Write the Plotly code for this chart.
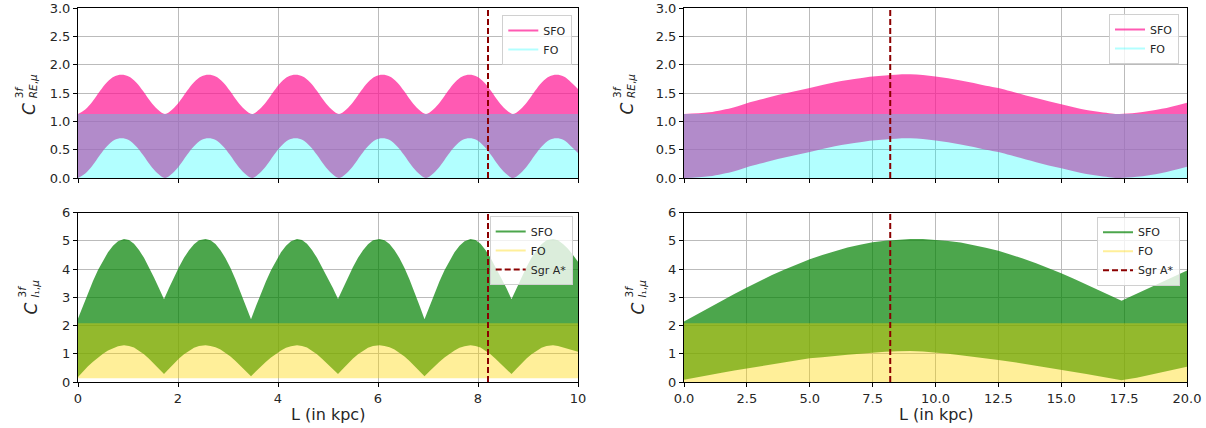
import plotly.graph_objects as go

# ---------------- data ----------------
SGR_A = 8.2

# Top-left panel (C_RE), L in 0..10 kpc
tl_x = [0, 0.145, 0.29, 0.435, 0.58, 0.725, 0.87, 1.015, 1.16, 1.305, 1.45, 1.595,
        1.74, 1.885, 2.03, 2.175, 2.32, 2.465, 2.61, 2.755, 2.9, 3.045, 3.19, 3.335,
        3.48, 3.625, 3.77, 3.915, 4.06, 4.205, 4.35, 4.495, 4.64, 4.785, 4.93, 5.075,
        5.22, 5.365, 5.51, 5.655, 5.8, 5.945, 6.09, 6.235, 6.38, 6.525, 6.67, 6.815,
        6.96, 7.105, 7.25, 7.395, 7.54, 7.685, 7.83, 7.975, 8.12, 8.265, 8.41, 8.555,
        8.7, 8.845, 8.99, 9.135, 9.28, 9.425, 9.57, 9.715, 9.86, 10.0]
tl_sfo_lo = [0, 0.08, 0.22, 0.4, 0.56, 0.67, 0.7, 0.67, 0.56, 0.4, 0.22, 0.08,
             0, 0.08, 0.22, 0.4, 0.56, 0.67, 0.7, 0.67, 0.56, 0.4, 0.22, 0.08,
             0, 0.08, 0.22, 0.4, 0.56, 0.67, 0.7, 0.67, 0.56, 0.4, 0.22, 0.08,
             0, 0.08, 0.22, 0.4, 0.56, 0.67, 0.7, 0.67, 0.56, 0.4, 0.22, 0.08,
             0, 0.08, 0.22, 0.4, 0.56, 0.67, 0.7, 0.67, 0.56, 0.4, 0.22, 0.08,
             0, 0.08, 0.22, 0.4, 0.56, 0.67, 0.7, 0.67, 0.56, 0.44]
tl_sfo_hi = [1.13, 1.21, 1.35, 1.53, 1.69, 1.79, 1.82, 1.79, 1.69, 1.53, 1.35, 1.21,
             1.13, 1.21, 1.35, 1.53, 1.69, 1.79, 1.82, 1.79, 1.69, 1.53, 1.35, 1.21,
             1.13, 1.21, 1.35, 1.53, 1.69, 1.79, 1.82, 1.79, 1.69, 1.53, 1.35, 1.21,
             1.13, 1.21, 1.35, 1.53, 1.69, 1.79, 1.82, 1.79, 1.69, 1.53, 1.35, 1.21,
             1.13, 1.21, 1.35, 1.53, 1.69, 1.79, 1.82, 1.79, 1.69, 1.53, 1.35, 1.21,
             1.13, 1.21, 1.35, 1.53, 1.69, 1.79, 1.82, 1.79, 1.69, 1.57]

# Top-right panel (C_RE), L in 0..20 kpc
tr_x = [0, 1, 2, 2.5, 3, 4, 5, 6, 7, 7.5, 8, 9, 10, 11, 12, 12.5, 13, 14, 15, 16,
        17, 17.3, 18, 19, 20]
tr_sfo_lo = [0.0, 0.03, 0.12, 0.19, 0.25, 0.36, 0.46, 0.56, 0.63, 0.66, 0.68, 0.70,
             0.66, 0.59, 0.50, 0.46, 0.40, 0.28, 0.17, 0.07, 0.01, 0.0, 0.02, 0.09, 0.20]
tr_sfo_hi = [1.13, 1.16, 1.25, 1.32, 1.38, 1.49, 1.59, 1.69, 1.76, 1.79, 1.81, 1.83,
             1.79, 1.72, 1.63, 1.59, 1.53, 1.41, 1.30, 1.20, 1.14, 1.13, 1.15, 1.22, 1.33]

# FO band for C_RE
re_fo_x = [0, 20]
re_fo_lo = [0.0, 0.0]
re_fo_hi = [1.13, 1.13]

# Bottom-left panel (C_I1), L in 0..10 kpc
bl_x = [0, 0.1, 0.2, 0.3, 0.4, 0.5, 0.6, 0.7, 0.8, 0.92, 1.02, 1.12, 1.22, 1.32, 1.42, 1.52, 1.62,
        1.72, 1.82, 1.92, 2.02, 2.12, 2.22, 2.32, 2.42, 2.55, 2.65, 2.75, 2.85, 2.95, 3.05, 3.15, 3.25, 3.36,
        3.46, 3.56, 3.66, 3.76, 3.86, 3.96, 4.06, 4.16, 4.26, 4.38, 4.48, 4.58, 4.68, 4.78, 4.88, 4.98, 5.1,
        5.2, 5.3, 5.4, 5.5, 5.6, 5.7, 5.8, 5.9, 6.03, 6.13, 6.23, 6.33, 6.43, 6.53, 6.63, 6.73, 6.83,
        6.93, 7.03, 7.13, 7.23, 7.33, 7.43, 7.53, 7.63, 7.73, 7.85, 7.95, 8.05, 8.15, 8.25, 8.35, 8.45, 8.57,
        8.67, 8.77, 8.87, 8.97, 9.07, 9.17, 9.27, 9.37, 9.5, 9.6, 9.7, 9.8, 9.9, 10.0]
bl_sfo_hi = [2.25, 2.71, 3.16, 3.58, 3.97, 4.3, 4.6, 4.83, 4.99, 5.07, 5.03, 4.9, 4.68, 4.4, 4.07, 3.7, 3.32,
             2.93, 3.33, 3.72, 4.08, 4.40, 4.67, 4.88, 5.02, 5.07, 5.02, 4.89, 4.67, 4.39, 4.04, 3.63, 3.19, 2.71,
             2.22, 2.69, 3.14, 3.57, 3.96, 4.3, 4.6, 4.83, 4.99, 5.07, 5.03, 4.9, 4.68, 4.4, 4.07, 3.7, 3.32,
             2.94, 3.33, 3.72, 4.08, 4.40, 4.67, 4.88, 5.02, 5.07, 5.02, 4.89, 4.67, 4.39, 4.04, 3.63, 3.19, 2.71,
             2.22, 2.69, 3.14, 3.57, 3.96, 4.3, 4.6, 4.83, 4.99, 5.07, 5.03, 4.9, 4.68, 4.4, 4.07, 3.7, 3.32,
             2.93, 3.33, 3.72, 4.08, 4.40, 4.67, 4.88, 5.02, 5.07, 5.02, 4.89, 4.72, 4.5, 4.26]
bl_sfo_lo = [0.18, 0.38, 0.56, 0.72, 0.87, 1.0, 1.12, 1.21, 1.27, 1.3, 1.28, 1.22, 1.11, 0.98, 0.82, 0.65, 0.47,
             0.28, 0.47, 0.66, 0.83, 0.98, 1.11, 1.21, 1.28, 1.3, 1.28, 1.23, 1.15, 1.04, 0.90, 0.74, 0.57, 0.39,
             0.2, 0.38, 0.56, 0.72, 0.87, 1.0, 1.12, 1.21, 1.27, 1.3, 1.28, 1.22, 1.11, 0.98, 0.82, 0.65, 0.47,
             0.28, 0.47, 0.66, 0.83, 0.98, 1.11, 1.21, 1.28, 1.3, 1.28, 1.23, 1.15, 1.04, 0.90, 0.74, 0.57, 0.39,
             0.2, 0.38, 0.56, 0.72, 0.87, 1.0, 1.12, 1.21, 1.27, 1.3, 1.28, 1.22, 1.11, 0.98, 0.82, 0.65, 0.47,
             0.28, 0.47, 0.66, 0.83, 0.98, 1.11, 1.21, 1.28, 1.3, 1.28, 1.23, 1.17, 1.12, 1.07]
bl_fo_x = [0, 10]
bl_fo_lo = [0.13, 0.13]
bl_fo_hi = [2.08, 2.08]

# Bottom-right panel (C_I1), L in 0..20 kpc
br_x = [0, 0.5, 1, 1.5, 2, 2.5, 3, 3.5, 4, 4.5, 5, 5.5, 6, 6.5, 7, 7.5, 8, 8.5, 9, 9.5,
        10, 10.5, 11, 11.5, 12, 12.5, 13, 13.5, 14, 14.5, 15, 15.5, 16, 16.5, 17, 17.4,
        17.5, 18, 18.5, 19, 19.5, 20]
br_sfo_hi = [2.14, 2.39, 2.64, 2.88, 3.12, 3.35, 3.58, 3.79, 3.99, 4.18, 4.35, 4.50,
             4.64, 4.77, 4.86, 4.95, 5.01, 5.05, 5.07, 5.07, 5.04, 5.00, 4.94, 4.86,
             4.76, 4.65, 4.52, 4.37, 4.21, 4.04, 3.85, 3.66, 3.46, 3.25, 3.05, 2.88,
             2.92, 3.13, 3.34, 3.54, 3.75, 3.95]
br_sfo_lo = [0.08, 0.17, 0.25, 0.33, 0.41, 0.48, 0.56, 0.63, 0.70, 0.77, 0.84, 0.88,
             0.93, 0.97, 1.0, 1.04, 1.07, 1.09, 1.10, 1.08, 1.05, 1.0, 0.95, 0.9,
             0.85, 0.78, 0.72, 0.65, 0.58, 0.5, 0.43, 0.35, 0.28, 0.2, 0.12, 0.06,
             0.08, 0.15, 0.25, 0.35, 0.45, 0.54]
br_fo_x = [0, 20]
br_fo_lo = [0.0, 0.0]
br_fo_hi = [2.08, 2.08]

x_ticks_left = [0, 2, 4, 6, 8, 10]
x_ticks_right = [0, 2.5, 5, 7.5, 10, 12.5, 15, 17.5, 20]
y_ticks_re = [0, 0.5, 1.0, 1.5, 2.0, 2.5, 3.0]
y_ticks_i1 = [0, 1, 2, 3, 4, 5, 6]

# ---------------- styles ----------------
FONT = "DejaVu Sans"
PINK = "rgba(255,20,147,0.7)"
CYAN = "rgba(0,255,255,0.3)"
GREEN = "rgba(0,128,0,0.7)"
GOLD = "rgba(255,215,0,0.4)"
DARKRED = "#8b0000"
TXT = "#262626"

fig = go.Figure()


def band(x, lo, hi, color, xa, ya, shape="linear"):
    fig.add_trace(go.Scatter(x=x, y=lo, mode="lines", line=dict(width=0, shape=shape),
                             showlegend=False, hoverinfo="skip", xaxis=xa, yaxis=ya))
    fig.add_trace(go.Scatter(x=x, y=hi, mode="lines", line=dict(width=0, shape=shape),
                             fill="tonexty", fillcolor=color, showlegend=False,
                             hoverinfo="skip", xaxis=xa, yaxis=ya))


def vline(xa, ya, ymax, legend=None):
    fig.add_trace(go.Scatter(x=[SGR_A, SGR_A], y=[0, ymax], mode="lines",
                             line=dict(color=DARKRED, width=2, dash="6px,3px"),
                             name="Sgr A*", showlegend=legend is not None,
                             legend=legend or "legend", hoverinfo="skip",
                             xaxis=xa, yaxis=ya))


def legend_line(name, color, legend, xa, ya):
    fig.add_trace(go.Scatter(x=[None], y=[None], mode="lines", name=name,
                             line=dict(color=color, width=2), legend=legend,
                             xaxis=xa, yaxis=ya))


# top-left
band(tl_x, tl_sfo_lo, tl_sfo_hi, PINK, "x", "y", "spline")
band(re_fo_x, re_fo_lo, re_fo_hi, CYAN, "x", "y")
vline("x", "y", 3)
legend_line("SFO", PINK, "legend", "x", "y")
legend_line("FO", CYAN, "legend", "x", "y")

# top-right
band(tr_x, tr_sfo_lo, tr_sfo_hi, PINK, "x2", "y2", "spline")
band(re_fo_x, re_fo_lo, re_fo_hi, CYAN, "x2", "y2")
vline("x2", "y2", 3)
legend_line("SFO", PINK, "legend2", "x2", "y2")
legend_line("FO", CYAN, "legend2", "x2", "y2")

# bottom-left
band(bl_x, bl_sfo_lo, bl_sfo_hi, GREEN, "x3", "y3")
band(bl_fo_x, bl_fo_lo, bl_fo_hi, GOLD, "x3", "y3")
legend_line("SFO", GREEN, "legend3", "x3", "y3")
legend_line("FO", GOLD, "legend3", "x3", "y3")
vline("x3", "y3", 6, "legend3")

# bottom-right
band(br_x, br_sfo_lo, br_sfo_hi, GREEN, "x4", "y4")
band(br_fo_x, br_fo_lo, br_fo_hi, GOLD, "x4", "y4")
legend_line("SFO", GREEN, "legend4", "x4", "y4")
legend_line("FO", GOLD, "legend4", "x4", "y4")
vline("x4", "y4", 6, "legend4")

W, H = 1206, 428
XL = [78 / W, 578 / W]
XR = [684 / W, 1187 / W]
YT = [1 - 178 / H, 1 - 8 / H]
YB = [1 - 382 / H, 1 - 212.7 / H]

axis_common = dict(showline=True, linecolor="black", linewidth=1, mirror=True,
                   ticks="outside", ticklen=4, tickwidth=1, tickcolor="black",
                   showgrid=True, gridcolor="#bbbbbb", gridwidth=1, zeroline=False,
                   automargin=False,
                   tickfont=dict(family=FONT, size=13, color=TXT))

fig.update_layout(
    width=W, height=H, margin=dict(l=0, r=0, t=0, b=0, autoexpand=False),
    paper_bgcolor="white", plot_bgcolor="white",
    font=dict(family=FONT, color=TXT),
    xaxis=dict(domain=XL, range=[0, 10], tickvals=x_ticks_left, showticklabels=False,
               anchor="y", **axis_common),
    yaxis=dict(domain=YT, range=[0, 3], tickvals=y_ticks_re, tickformat=".1f",
               anchor="x", **axis_common),
    xaxis2=dict(domain=XR, range=[0, 20], tickvals=x_ticks_right, showticklabels=False,
                anchor="y2", **axis_common),
    yaxis2=dict(domain=YT, range=[0, 3], tickvals=y_ticks_re, tickformat=".1f",
                anchor="x2", **axis_common),
    xaxis3=dict(domain=XL, range=[0, 10], tickvals=x_ticks_left, tickformat="d",
                anchor="y3", **axis_common),
    yaxis3=dict(domain=YB, range=[0, 6], tickvals=y_ticks_i1, tickformat="d",
                anchor="x3", **axis_common),
    xaxis4=dict(domain=XR, range=[0, 20], tickvals=x_ticks_right, tickformat=".1f",
                anchor="y4", **axis_common),
    yaxis4=dict(domain=YB, range=[0, 6], tickvals=y_ticks_i1, tickformat="d",
                anchor="x4", **axis_common),
)

leg_common = dict(bgcolor="rgba(255,255,255,0.8)", bordercolor="#d0d0d0", borderwidth=1,
                  font=dict(family=FONT, size=11, color=TXT), traceorder="normal",
                  xanchor="right", yanchor="top", itemwidth=30, tracegroupgap=0)
fig.update_layout(
    legend=dict(x=572.3 / W, y=1 - 15 / H, **leg_common),
    legend2=dict(x=1179 / W, y=1 - 14 / H, **leg_common),
    legend3=dict(x=572.7 / W, y=1 - 216 / H, **leg_common),
    legend4=dict(x=1180 / W, y=1 - 216.7 / H, **leg_common),
)


def ylabel(cx, cy, scx, sstart, subtext):
    # big italic C, then the superscript / subscript stacked as two rotated lines
    fig.add_annotation(x=cx / W, y=1 - cy / H, xref="paper", yref="paper",
                       showarrow=False, textangle=-90, xanchor="center", yanchor="middle",
                       text="<i>C</i>", font=dict(family=FONT, size=17, color=TXT))
    fig.add_annotation(x=scx / W, y=1 - sstart / H, xref="paper", yref="paper",
                       showarrow=False, textangle=-90, xanchor="center", yanchor="bottom",
                       align="left", text="3<i>f</i><br>" + subtext,
                       font=dict(family=FONT, size=10.5, color=TXT))


ylabel(28.3, 108.7, 26.3, 100, "<i>RE</i>,<i>μ</i>")
ylabel(626, 108.5, 624, 100, "<i>RE</i>,<i>μ</i>")
ylabel(30.5, 309, 28.5, 300, "<i>I</i>₁,<i>μ</i>")
ylabel(637.5, 309, 635.5, 300, "<i>I</i>₁,<i>μ</i>")

for cx in (328, 935.5):
    fig.add_annotation(x=cx / W, y=1 - 414.5 / H, xref="paper", yref="paper",
                       text="L (in kpc)", showarrow=False, xanchor="center",
                       yanchor="middle", font=dict(family=FONT, size=16, color=TXT))

fig.write_html("out.html", config={"displayModeBar": False},
               post_script="document.body.style.margin='0px';"
                           "document.body.style.overflow='hidden';")
